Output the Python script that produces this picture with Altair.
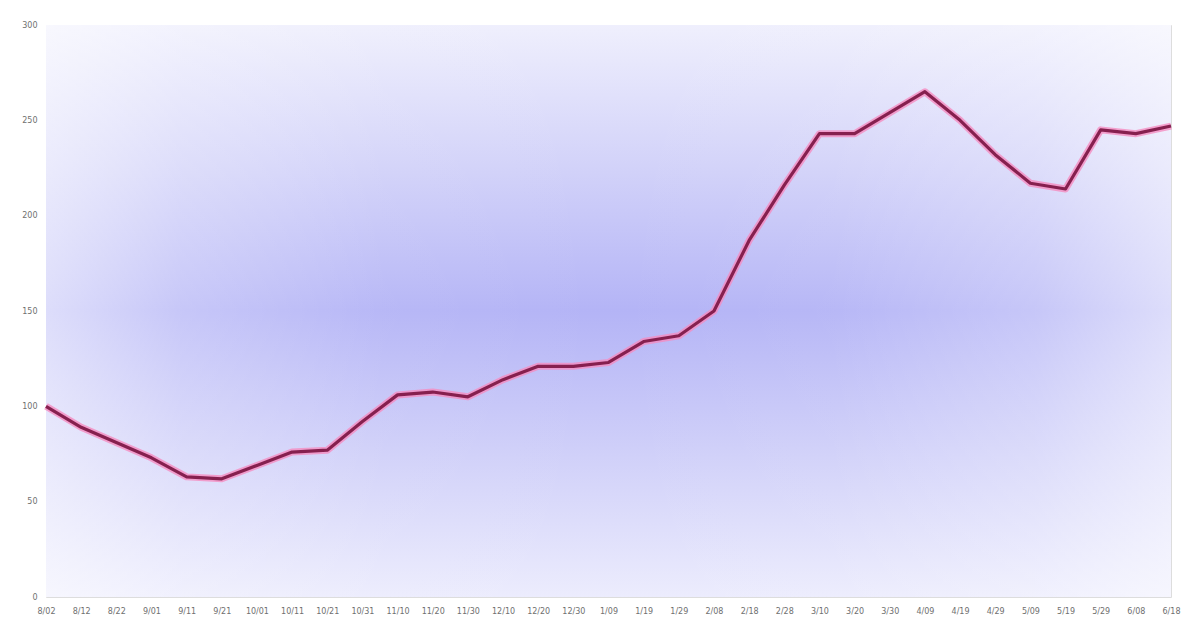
import altair as alt
import pandas as pd

labels = ["8/02", "8/12", "8/22", "9/01", "9/11", "9/21", "10/01", "10/11", "10/21",
          "10/31", "11/10", "11/20", "11/30", "12/10", "12/20", "12/30", "1/09",
          "1/19", "1/29", "2/08", "2/18", "2/28", "3/10", "3/20", "3/30", "4/09",
          "4/19", "4/29", "5/09", "5/19", "5/29", "6/08", "6/18"]
values = [100, 89, 81, 73, 63, 62, 69, 76, 77, 92, 106, 107.5, 105, 114, 121, 121,
          123, 134, 137, 150, 187, 216, 243, 243, 254, 265, 250, 232, 217, 214,
          245, 243, 247]
y_ticks = [0, 50, 100, 150, 200, 250, 300]

W, H = 1125, 572

df = pd.DataFrame({"label": labels, "value": values})
bg = pd.DataFrame({"k": [0]})

vert = alt.LinearGradient(
    gradient="linear", x1=0, y1=0, x2=0, y2=1,
    stops=[
        alt.GradientStop(offset=0, color="#efeffd"),
        alt.GradientStop(offset=0.25, color="#d2d2f9"),
        alt.GradientStop(offset=0.5, color="#b4b4f6"),
        alt.GradientStop(offset=0.75, color="#d0d0f9"),
        alt.GradientStop(offset=1, color="#ececfd"),
    ],
)
horiz = alt.LinearGradient(
    gradient="linear", x1=0, y1=0, x2=1, y2=0,
    stops=[
        alt.GradientStop(offset=0, color="rgba(255,255,255,0.55)"),
        alt.GradientStop(offset=0.12, color="rgba(255,255,255,0.25)"),
        alt.GradientStop(offset=0.3, color="rgba(255,255,255,0.05)"),
        alt.GradientStop(offset=0.5, color="rgba(255,255,255,0)"),
        alt.GradientStop(offset=0.7, color="rgba(255,255,255,0.05)"),
        alt.GradientStop(offset=0.88, color="rgba(255,255,255,0.25)"),
        alt.GradientStop(offset=1, color="rgba(255,255,255,0.55)"),
    ],
)

bg_v = alt.Chart(bg).mark_rect(fill=vert, stroke=None).encode(
    x=alt.value(0), x2=alt.value(W), y=alt.value(0), y2=alt.value(H)
)
bg_h = alt.Chart(bg).mark_rect(fill=horiz, stroke=None).encode(
    x=alt.value(0), x2=alt.value(W), y=alt.value(0), y2=alt.value(H)
)

x_enc = alt.X(
    "label:O", sort=None, title=None,
    scale=alt.Scale(type="point", padding=0),
    axis=alt.Axis(labelAngle=0, labelFontSize=8, labelColor="#6f6f6f",
                  labelPadding=10, ticks=False, domain=False, grid=False,
                  labelFont="DejaVu Sans"),
)
y_enc = alt.Y(
    "value:Q", title=None,
    scale=alt.Scale(domain=[0, 300], nice=False),
    axis=alt.Axis(values=y_ticks, labelFontSize=8, labelColor="#6f6f6f",
                  labelPadding=9, ticks=False, domain=False, grid=False,
                  labelFont="DejaVu Sans"),
)

halo = alt.Chart(df).mark_line(color="#f58cc0", strokeWidth=7, opacity=0.8,
                               strokeJoin="round").encode(x=x_enc, y=y_enc)
line = alt.Chart(df).mark_line(color="#86204f", strokeWidth=3.2,
                               strokeJoin="round").encode(x=x_enc, y=y_enc)

chart = alt.layer(bg_v, bg_h, halo, line).properties(
    width=W, height=H,
    autosize=alt.AutoSizeParams(type="none"),
    padding={"left": 38, "top": 17, "right": 10, "bottom": 30},
).configure_view(stroke=None).configure(background="white")

chart.save("out.html", embed_options={"renderer": "svg", "actions": False})
